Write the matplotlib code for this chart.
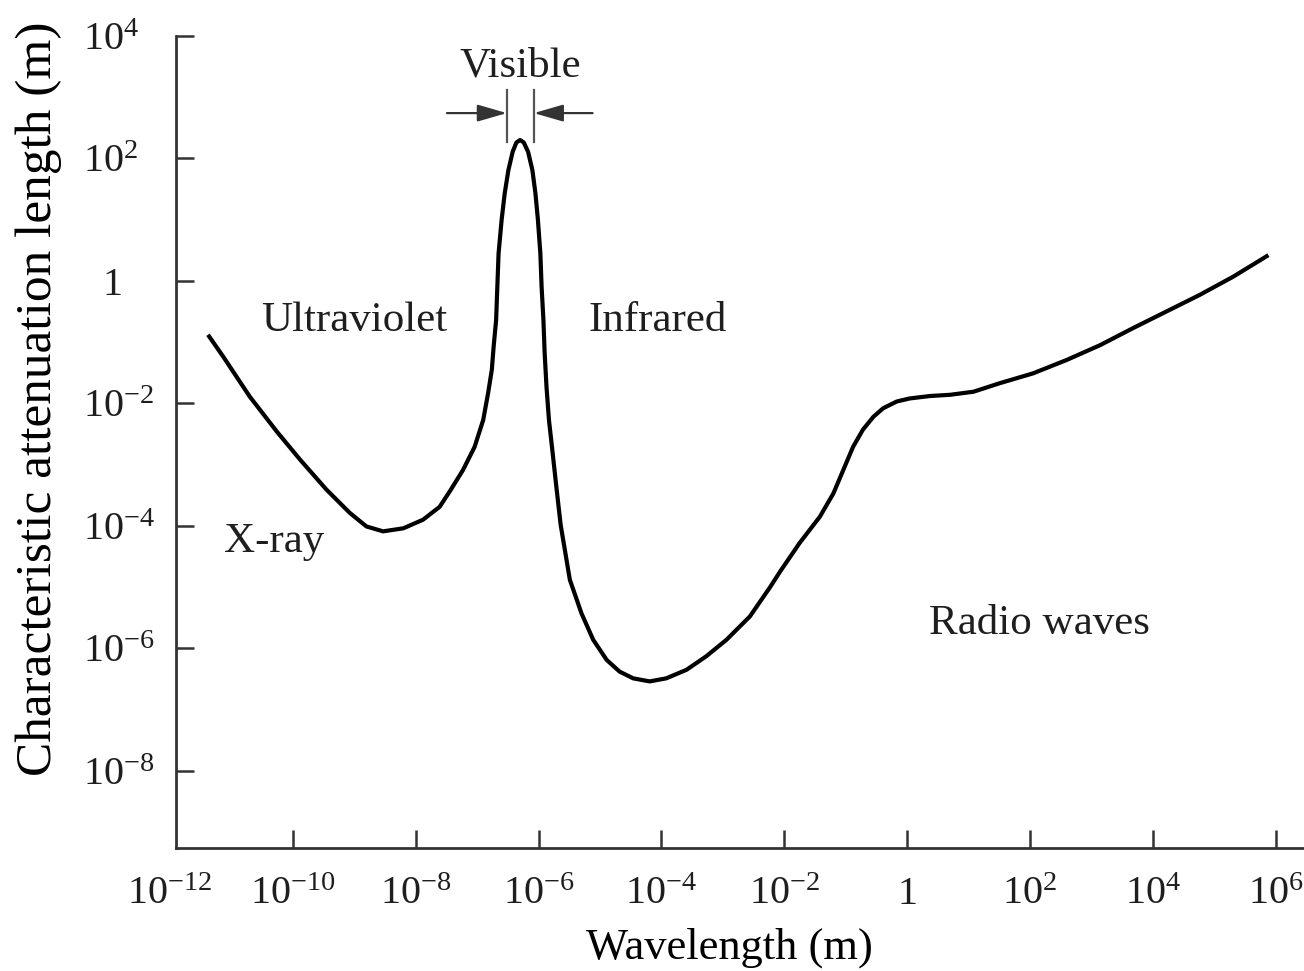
#!/usr/bin/env python3

## plot.py
# attenuation length of light in water vs wavelength

import numpy as np
import matplotlib
matplotlib.use('Agg')
import matplotlib.pyplot as plt
import matplotlib.transforms as mtransforms

## Data (log10 of wavelength in m, log10 of attenuation length in m)

LOG_WAVELENGTH = [-11.38, -11.13, -10.70, -10.26, -9.88, -9.45, -9.07, -8.80, -8.53, -8.20,
                  -7.88, -7.61, -7.44, -7.23, -7.04, -6.90, -6.82, -6.76, -6.73, -6.69,
                  -6.67, -6.65, -6.60, -6.55, -6.49, -6.42, -6.36, -6.30, -6.24, -6.17,
                  -6.10, -6.05, -6.01, -5.97, -5.95, -5.92, -5.90, -5.87, -5.83, -5.77,
                  -5.71, -5.64, -5.49, -5.30, -5.11, -4.89, -4.68, -4.46, -4.19, -3.92,
                  -3.59, -3.27, -2.94, -2.56, -2.23, -2.07, -1.75, -1.42, -1.20, -1.04,
                  -0.88, -0.72, -0.55, -0.39, -0.17, 0.04, 0.37, 0.70, 1.08, 1.51,
                  2.05, 2.60, 3.14, 3.68, 4.22, 4.76, 5.31, 5.88]
LOG_LENGTH     = [-0.88, -1.24, -1.89, -2.46, -2.92, -3.41, -3.79, -4.01, -4.09, -4.04,
                  -3.90, -3.69, -3.43, -3.09, -2.71, -2.27, -1.83, -1.45, -1.07, -0.64,
                  -0.09, 0.45, 1.00, 1.43, 1.81, 2.11, 2.26, 2.30, 2.26, 2.11,
                  1.81, 1.43, 1.00, 0.45, -0.09, -0.64, -1.18, -1.73, -2.27, -2.81,
                  -3.36, -3.98, -4.88, -5.43, -5.86, -6.19, -6.38, -6.49, -6.54, -6.49,
                  -6.35, -6.13, -5.86, -5.48, -5.00, -4.75, -4.28, -3.85, -3.47, -3.09,
                  -2.71, -2.43, -2.22, -2.08, -1.97, -1.92, -1.88, -1.86, -1.81, -1.67,
                  -1.51, -1.29, -1.05, -0.77, -0.50, -0.23, 0.07, 0.42]

X_TICKS = [-12, -10, -8, -6, -4, -2, 0, 2, 4, 6]
Y_TICKS = [4, 2, 0, -2, -4, -6, -8]

VISIBLE_EDGES = [-6.515, -6.076]     # bracket lines round the visible band

REGIONS = {
    'Ultraviolet': (-9.00, -0.65),
    'Infrared':    (-4.06, -0.65),
    'X-ray':       (-10.31, -4.26),
    'Radio waves': (2.16, -5.60),
}

INK   = '#1e1e1e'
LINE  = '#333333'
FTICK = 29
FTEXT = 31

plt.rcParams['font.family'] = ['Liberation Serif', 'DejaVu Serif']
plt.rcParams['mathtext.fontset'] = 'custom'
plt.rcParams['mathtext.rm'] = 'Liberation Serif'
plt.rcParams['mathtext.it'] = 'Liberation Serif:italic'
plt.rcParams['text.color'] = INK


def tick_label(e):
    if e == 0:
        return '1'
    return r'$\mathregular{10^{%d}}$' % e


def main():
    fig = plt.figure(figsize=(13.04, 9.71), dpi=100)
    ax = fig.add_axes([0.135, 0.1267, 0.865, 0.8363])

    x = 10.0 ** np.array(LOG_WAVELENGTH)
    y = 10.0 ** np.array(LOG_LENGTH)
    ax.plot(x, y, color='black', lw=3.0, solid_capstyle='butt', solid_joinstyle='round')

    ax.set_xscale('log')
    ax.set_yscale('log')
    ax.set_xlim(10 ** -11.9, 10 ** 6.46)
    ax.set_ylim(10 ** -9.26, 1e4)

    ax.set_xticks([10.0 ** e for e in X_TICKS[1:]])
    ax.set_yticks([10.0 ** e for e in Y_TICKS])
    ax.set_xticklabels([])
    ax.set_yticklabels([])
    ax.minorticks_off()

    for side in ['top', 'right']:
        ax.spines[side].set_visible(False)
    for side in ['left', 'bottom']:
        ax.spines[side].set_linewidth(2.0)
        ax.spines[side].set_color(LINE)
    ax.tick_params(axis='both', direction='in', length=13, width=1.8, color=LINE)

    # tick labels written by hand (10^-12 sits just left of the axis start)
    xtrans = mtransforms.offset_copy(ax.get_xaxis_transform(), fig=fig, y=-56, units='dots')
    for e in X_TICKS:
        ax.text(10.0 ** e, 0, tick_label(e), transform=xtrans, fontsize=FTICK,
                ha='center', va='baseline', clip_on=False)
    ytrans = mtransforms.offset_copy(ax.get_yaxis_transform(), fig=fig, y=-14, units='dots')
    for e in Y_TICKS:
        if e == 0:
            ax.text(-0.0567, 1.0, '1', transform=ytrans, fontsize=FTICK,
                    ha='center', va='baseline', clip_on=False)
        else:
            ax.text(-0.0825, 10.0 ** e, tick_label(e), transform=ytrans, fontsize=FTICK,
                    ha='left', va='baseline', clip_on=False)

    ax.set_xlabel('Wavelength (m)', fontsize=32)
    ax.xaxis.set_label_coords(0.491, -0.0985)
    ax.set_ylabel('Characteristic attenuation length (m)', fontsize=37)
    ax.yaxis.set_label_coords(-0.101, 0.553)

    # visible band marker
    for e in VISIBLE_EDGES:
        ax.plot([10 ** e, 10 ** e], [10 ** 2.27, 10 ** 3.12], color='#555555', lw=1.6)
    arrow = dict(arrowstyle='-|>,head_length=0.45,head_width=0.13', color=LINE,
                 lw=1.6, mutation_scale=40, shrinkA=0, shrinkB=0)
    ax.annotate('', xy=(10 ** VISIBLE_EDGES[0], 10 ** 2.74), xytext=(10 ** -7.49, 10 ** 2.74),
                arrowprops=arrow)
    ax.annotate('', xy=(10 ** VISIBLE_EDGES[1], 10 ** 2.74), xytext=(10 ** -5.12, 10 ** 2.74),
                arrowprops=arrow)
    ax.text(10 ** -6.29, 10 ** 3.50, 'Visible', fontsize=FTEXT, ha='center', va='center')

    for name, (lx, ly) in REGIONS.items():
        ax.text(10 ** lx, 10 ** ly, name, fontsize=FTEXT, ha='center', va='center')

    fig.savefig('out.png', dpi=100, facecolor='white')


if __name__ == '__main__':
    main()
